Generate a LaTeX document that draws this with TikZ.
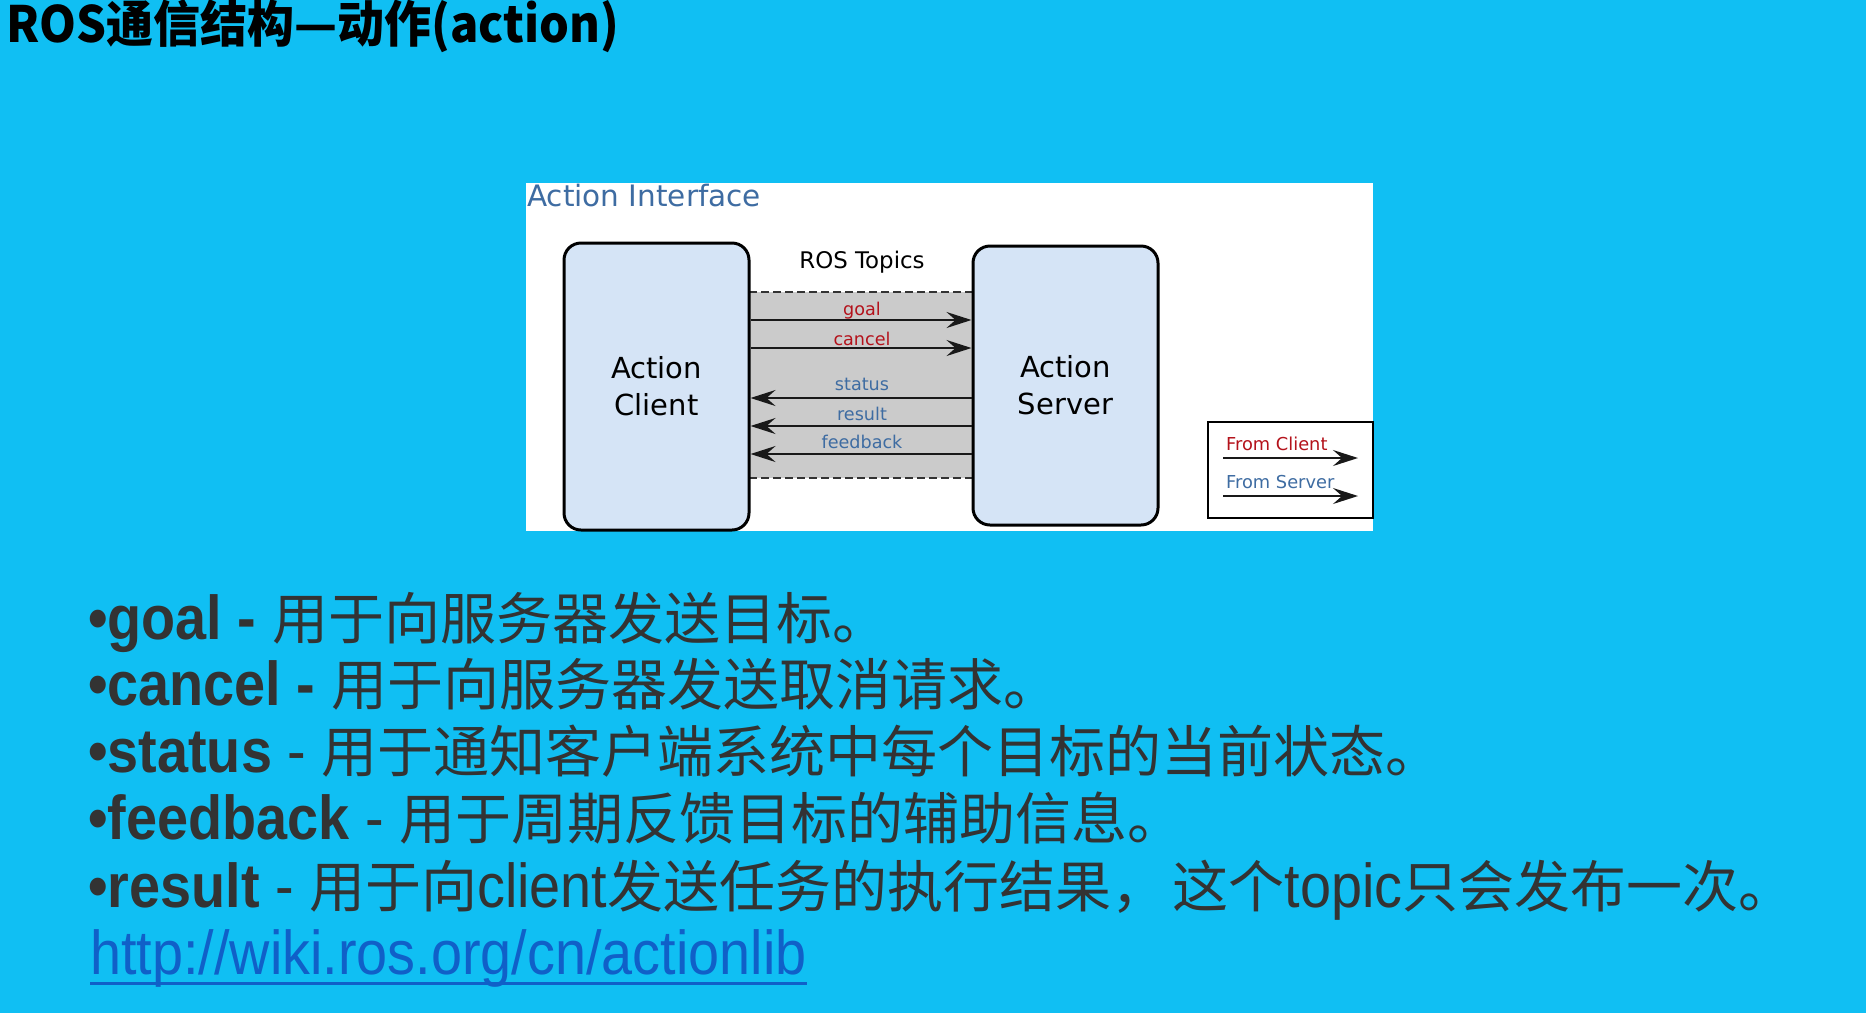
\documentclass[tikz,border=0pt]{standalone}
\usepackage{fontspec}
\setmainfont{Liberation Sans}[FakeStretch=0.9]
\newfontfamily\cjk{Noto Sans CJK SC}
\newfontfamily\cjktitle{Noto Sans CJK SC}[FakeStretch=0.94]
\newfontfamily\dv{DejaVu Sans}
\usetikzlibrary{arrows.meta}
\definecolor{bgc}{RGB}{16,191,243}
\definecolor{txt}{RGB}{51,51,51}
\definecolor{linkc}{RGB}{16,96,200}
\definecolor{boxfill}{RGB}{213,228,246}
\definecolor{bandc}{RGB}{203,203,203}
\definecolor{redl}{RGB}{180,18,27}
\definecolor{bluel}{RGB}{62,108,162}
\newcommand{\zh}[1]{{\cjk\fontsize{56}{62}\selectfont #1}}
\tikzset{
  actor/.style={draw=black, line width=3pt, fill=boxfill, rounded corners=17pt,
    minimum width=185pt, align=center, inner sep=0pt,
    font=\dv\fontsize{29}{37}\selectfont},
  topic/.style={line width=2pt, black!90, -{Stealth[length=25pt,width=16pt,inset=9pt]}},
  lbl/.style={anchor=base, inner sep=0pt, font=\dv\fontsize{17.6}{20}\selectfont},
  bullet/.style={anchor=base west, inner sep=0pt, text=txt, font=\fontsize{62}{70}\selectfont}
}
\begin{document}
\begin{tikzpicture}[x=1pt,y=-1pt]
\path[fill=bgc] (0,0) rectangle (1866,1013);
\useasboundingbox (0,0) rectangle (1866,1013);
% title
\node[anchor=base west, inner sep=0pt, font=\cjktitle\bfseries\fontsize{50}{56}\selectfont] (title) at (6,42) {ROS通信结构—动作(action)};
% diagram panel
\fill[white] (526,183) rectangle (1373,531);
\node[anchor=base west, inner sep=0pt, text=bluel, font=\dv\fontsize{29.5}{34}\selectfont] (iface) at (527,206) {Action Interface};
\fill[bandc] (749,292) rectangle (973,478);
\draw[line width=1.5pt, dash pattern=on 8pt off 4pt, black!80] (749,292) -- (973,292);
\draw[line width=1.5pt, dash pattern=on 8pt off 4pt, black!80] (749,478) -- (973,478);
\node[actor, minimum height=287pt] (client) at (656.5,386.5) {Action\\Client};
\node[actor, minimum height=279pt] (server) at (1065.5,385.5) {Action\\Server};
\node[anchor=base, inner sep=0pt, font=\dv\fontsize{22.9}{26}\selectfont] (rostopics) at (862,268) {ROS Topics};
% topic connectors
\coordinate (yg) at (0,320);
\coordinate (yc) at (0,348);
\coordinate (ys) at (0,398);
\coordinate (yr) at (0,426);
\coordinate (yf) at (0,454);
\draw[topic] (client.east |- yg) -- (server.west |- yg);
\draw[topic] (client.east |- yc) -- (server.west |- yc);
\draw[topic] (server.west |- ys) -- (client.east |- ys);
\draw[topic] (server.west |- yr) -- (client.east |- yr);
\draw[topic] (server.west |- yf) -- (client.east |- yf);
\node[lbl, text=redl] (lgoal) at (862,315) {goal};
\node[lbl, text=redl] (lcancel) at (862,345) {cancel};
\node[lbl, text=bluel] (lstatus) at (862,390) {status};
\node[lbl, text=bluel] (lresult) at (862,420) {result};
\node[lbl, text=bluel] (lfeed) at (862,448) {feedback};
% legend
\node[draw=black, line width=1.5pt, fill=white, minimum width=165pt, minimum height=96pt, inner sep=0pt] (legend) at (1290.5,470) {};
\node[anchor=base west, inner sep=0pt, text=redl, font=\dv\fontsize{17.8}{20}\selectfont] (fc) at (1226,450) {From Client};
\node[anchor=base west, inner sep=0pt, text=bluel, font=\dv\fontsize{17.8}{20}\selectfont] (fs) at (1226,488) {From Server};
\coordinate (lc1) at (1223,458); \coordinate (lc2) at (1358,458);
\coordinate (ls1) at (1223,496); \coordinate (ls2) at (1358,496);
\draw[topic] (lc1) -- (lc2);
\draw[topic] (ls1) -- (ls2);
% bullet text
\node[bullet] (b1) at (88,639) {{\bfseries •goal -} \zh{用于向服务器发送目标。}};
\node[bullet] (b2) at (88,705) {{\bfseries •cancel -} \zh{用于向服务器发送取消请求。}};
\node[bullet] (b3) at (88,772) {{\bfseries •status} - \zh{用于通知客户端系统中每个目标的当前状态。}};
\node[bullet] (b4) at (88,839) {{\bfseries •feedback} - \zh{用于周期反馈目标的辅助信息。}};
\node[bullet] (b5) at (88,907) {{\bfseries •result} - \zh{用于向}client\zh{发送任务的执行结果，\hspace{5pt}这个}topic\zh{只会发布一次。}};
\node[bullet, text=linkc] (link) at (90,974) {http://wiki.ros.org/cn/actionlib};
\draw[linkc, line width=3pt] ([yshift=-9pt]link.base west) -- ([yshift=-9pt]link.base east);
\end{tikzpicture}
\end{document}
